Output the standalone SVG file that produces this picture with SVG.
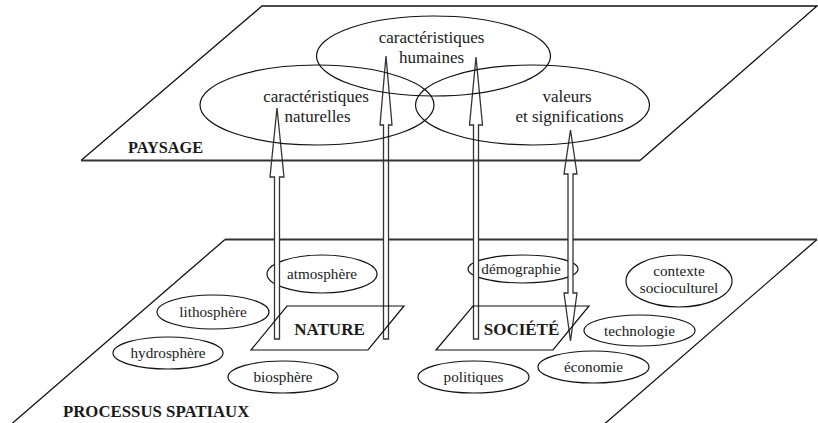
<svg xmlns="http://www.w3.org/2000/svg" width="818" height="423" viewBox="0 0 818 423">
<style>
.plane{fill:none;stroke:#111;stroke-width:1.3;stroke-linejoin:miter}
.edge{fill:none;stroke:#333;stroke-width:2.2}
.ell{fill:none;stroke:#111;stroke-width:1.2}
.arrow{fill:#fff;stroke:#333;stroke-width:1.3;stroke-linejoin:miter}
.para{fill:none;stroke:#111;stroke-width:1.2}
.big{font-family:"Liberation Serif",serif;font-size:17px;fill:#1a1a1a;text-anchor:middle}
.small{font-family:"Liberation Serif",serif;font-size:15.2px;fill:#1a1a1a;text-anchor:middle}
.title{font-family:"Liberation Serif",serif;font-weight:bold;fill:#1a1a1a}
</style>
<rect width="818" height="423" fill="#fff"/>
<g id="plane-processus">
<path class="plane" d="M8,427 L225,239.5"/>
<path class="plane" d="M817,239.5 L601,427"/>
<path class="edge" d="M225,239.5 H817"/>
<text class="title" x="63" y="417" font-size="16.8">PROCESSUS SPATIAUX</text>
</g>
<g id="atmosphere"><ellipse class="ell" cx="322" cy="274" rx="55" ry="19"/><text class="small" x="322" y="279">atmosphère</text></g>
<g id="lithosphere"><ellipse class="ell" cx="213" cy="312" rx="56" ry="17"/><text class="small" x="213" y="317">lithosphère</text></g>
<g id="hydrosphere"><ellipse class="ell" cx="168" cy="353" rx="55" ry="16"/><text class="small" x="168" y="358">hydrosphère</text></g>
<g id="biosphere"><ellipse class="ell" cx="283" cy="377" rx="55" ry="16"/><text class="small" x="283" y="382">biosphère</text></g>
<g id="demographie"><ellipse class="ell" cx="523" cy="269" rx="55" ry="14"/><text class="small" x="521" y="274">démographie</text></g>
<g id="contexte"><ellipse class="ell" cx="679" cy="281" rx="53" ry="26"/><text class="small" x="679" y="276">contexte</text><text class="small" x="679" y="293">socioculturel</text></g>
<g id="technologie"><ellipse class="ell" cx="639.5" cy="330.5" rx="55.5" ry="15.5"/><text class="small" x="639.5" y="335.5">technologie</text></g>
<g id="economie"><ellipse class="ell" cx="593.5" cy="367" rx="55.5" ry="16"/><text class="small" x="593.5" y="372">économie</text></g>
<g id="politiques"><ellipse class="ell" cx="473.5" cy="377" rx="55.5" ry="16"/><text class="small" x="473.5" y="382">politiques</text></g>
<g id="connectors">
<path class="arrow" d="M274.5,339 V177 H270 L277,108 L284,177 H279.5 V339 Z"/>
<path class="arrow" d="M383.5,339 V125 H380 L386,56 L392,125 H388.5 V339 Z"/>
<path class="arrow" d="M473.5,339 V125 H469.5 L476,57 L482.5,125 H478.5 V339 Z"/>
<path class="arrow" d="M568,174 H564 L570.5,130 L577,174 H573 V293 H577 L570.5,341 L564,293 H568 Z"/>
</g>
<g id="nature">
<path class="para" d="M287,306 H404 L368,350 H251 Z"/>
<text class="title" x="329.5" y="335" font-size="17" text-anchor="middle">NATURE</text>
</g>
<g id="societe">
<path class="para" d="M473,306 H589 L553,350 H436 Z"/>
<text class="title" x="521.5" y="335" font-size="17" text-anchor="middle">SOCIÉTÉ</text>
</g>
<g id="plane-paysage">
<path class="plane" d="M81,160.5 L262,6 H817 L640,160.5"/>
<path class="edge" d="M81,160.5 H640"/>
<text class="title" x="128" y="153" font-size="16.3">PAYSAGE</text>
</g>
<g id="car-naturelles"><ellipse class="ell" cx="317" cy="105" rx="117" ry="40"/><text class="big" x="316" y="102">caractéristiques</text><text class="big" x="317.5" y="122">naturelles</text></g>
<g id="car-humaines"><ellipse class="ell" cx="433.5" cy="56" rx="117" ry="40"/><text class="big" x="431.5" y="43">caractéristiques</text><text class="big" x="431.5" y="63">humaines</text></g>
<g id="valeurs"><ellipse class="ell" cx="532.5" cy="105" rx="117" ry="40"/><text class="big" x="567" y="102">valeurs</text><text class="big" x="569.5" y="122">et significations</text></g>
</svg>
